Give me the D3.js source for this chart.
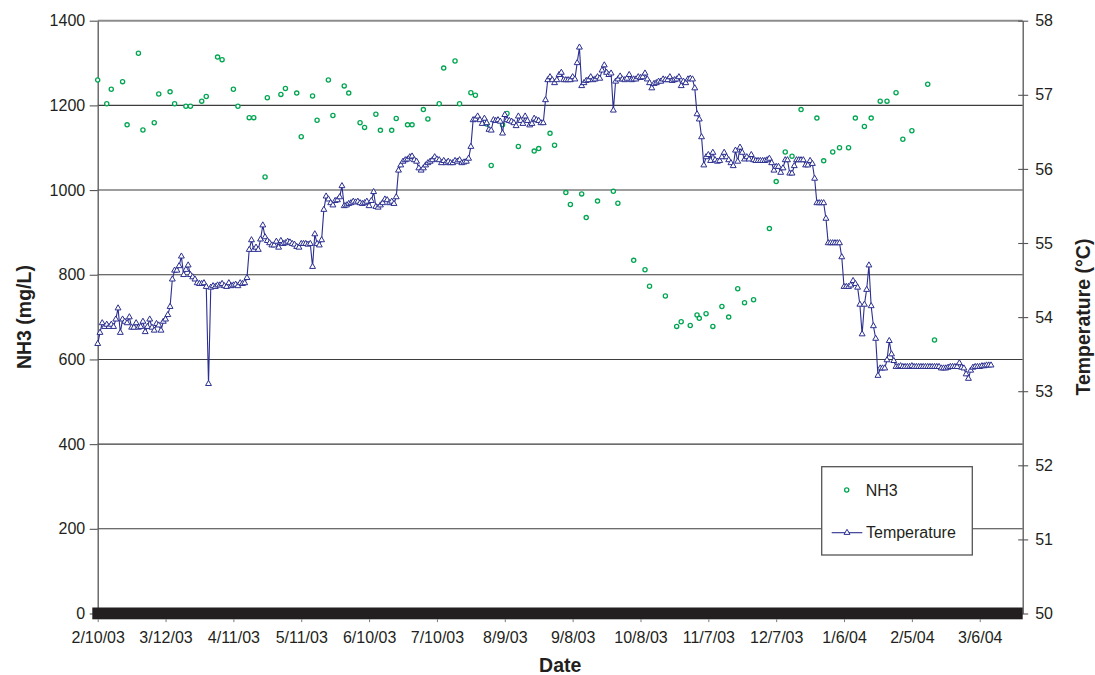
<!DOCTYPE html>
<html>
<head>
<meta charset="utf-8">
<script src="https://cdn.jsdelivr.net/npm/d3@7"></script>
<style>
  body { margin: 0; background: #fff; }
  svg text { font-family: "Liberation Sans", Arial, Helvetica, sans-serif; fill: #231f20; }
</style>
</head>
<body>
<script>
// NH3 and digester temperature, 2/10/03 - 3/6/04

const startDate = "2003-02-10";
const endDate = "2004-03-25";

const xTickLabels = ["2/10/03", "3/12/03", "4/11/03", "5/11/03", "6/10/03", "7/10/03", "8/9/03",
  "9/8/03", "10/8/03", "11/7/03", "12/7/03", "1/6/04", "2/5/04", "3/6/04"];
const nh3Ticks = [0, 200, 400, 600, 800, 1000, 1200, 1400];
const tempTicks = [50, 51, 52, 53, 54, 55, 56, 57, 58];

// NH3 samples: days after 2/10/03, and mg/L
const nh3Days = [0, 4, 6, 11, 13, 18, 20, 25, 27, 32, 34, 39, 41, 46, 48, 53, 55, 60, 62, 67,
  69, 74, 75, 81, 83, 88, 90, 95, 97, 102, 104, 109, 111, 116, 118, 123, 125, 130, 132, 137,
  139, 144, 146, 151, 153, 158, 160, 165, 167, 172, 174, 179, 181, 186, 193, 195, 200, 202, 207, 209,
  214, 216, 221, 228, 230, 237, 242, 244, 251, 256, 258, 262, 265, 266, 269, 272, 276, 279, 283, 286,
  290, 297, 300, 304, 307, 311, 318, 321, 325, 328, 332, 335, 339, 342, 346, 349, 353, 356, 360, 367,
  370];
const nh3Values = [1260, 1204, 1238, 1256, 1154, 1323, 1142, 1159, 1227, 1232, 1204, 1198, 1198, 1210, 1221, 1314, 1308, 1238, 1198, 1171,
  1171, 1031, 1218, 1226, 1240, 1229, 1126, 1222, 1165, 1260, 1176, 1246, 1229, 1159, 1148, 1179, 1141, 1141, 1169, 1154,
  1154, 1190, 1168, 1204, 1288, 1305, 1204, 1230, 1224, 1156, 1058, 1154, 1181, 1103, 1092, 1098, 1134, 1106, 994, 966,
  991, 935, 974, 997, 969, 834, 812, 773, 750, 678, 689, 680, 705, 697, 708, 678, 725, 700, 767, 734,
  741, 909, 1020, 1090, 1080, 1190, 1170, 1069, 1090, 1100, 1100, 1170, 1150, 1170, 1210, 1210, 1230, 1120, 1140, 1250,
  646];

// Daily temperature (deg C), one value per day from 2/10/03
const tempValues = [
  53.64, 53.79, 53.92, 53.87, 53.90, 53.87, 53.90, 53.87, 53.97, 54.12,
  53.79, 53.97, 53.94, 53.92, 54.00, 53.86, 53.86, 53.92, 53.86, 53.87,
  53.94, 53.80, 53.87, 53.97, 53.86, 53.82, 53.91, 53.89, 53.82, 53.94,
  53.97, 54.03, 54.14,
  54.51, 54.63, 54.63, 54.69, 54.82, 54.57, 54.64, 54.70, 54.57, 54.54,
  54.51, 54.46, 54.45, 54.45, 54.46, 54.41,
  53.10,
  54.40, 54.42, 54.41, 54.43, 54.43, 54.45, 54.42, 54.41, 54.46, 54.42,
  54.43, 54.44, 54.42, 54.46, 54.45, 54.46, 54.53,
  54.91, 55.04, 54.91, 54.94, 54.91, 55.05, 55.24, 55.08, 55.03, 55.00,
  54.97, 54.97, 55.02, 54.94, 55.03, 54.99, 55.00, 55.02, 55.01, 54.99,
  54.98, 54.95, 54.94, 54.99, 54.99, 54.99, 54.98, 54.99, 54.68, 55.12,
  54.99, 54.97, 55.04,
  55.45, 55.63, 55.59, 55.54, 55.51, 55.57, 55.58, 55.62, 55.77, 55.50,
  55.51, 55.53, 55.54, 55.56, 55.55, 55.56, 55.54, 55.53, 55.54, 55.56,
  55.50, 55.57, 55.69, 55.49, 55.48, 55.51, 55.54, 55.59, 55.58, 55.54,
  55.56, 55.53, 55.62,
  55.98, 56.05, 56.10, 56.12, 56.13, 56.16, 56.17, 56.12, 56.10, 56.01,
  55.98, 56.01, 56.05, 56.08, 56.10, 56.12, 56.16, 56.13, 56.12, 56.08,
  56.11, 56.08, 56.10, 56.08, 56.08, 56.11, 56.10, 56.12, 56.08, 56.09,
  56.10, 56.14,
  56.30,
  56.66, 56.67, 56.71, 56.66, 56.61, 56.68, 56.62, 56.53, 56.52, 56.66,
  56.65, 56.66, 56.64, 56.48, 56.73, 56.66, 56.65, 56.64, 56.62, 56.58,
  56.71, 56.65, 56.61, 56.71, 56.65, 56.59, 56.61, 56.68, 56.66, 56.65,
  56.62, 56.62,
  56.93, 57.20, 57.24, 57.20, 57.16, 57.20, 57.27, 57.30, 57.20, 57.20,
  57.20, 57.20, 57.24, 57.21, 57.43, 57.64, 57.12, 57.16, 57.19, 57.20,
  57.24, 57.20, 57.21, 57.24, 57.22, 57.33, 57.40, 57.30, 57.27, 57.29,
  56.79,
  57.18, 57.21, 57.25, 57.21, 57.20, 57.22, 57.27, 57.20, 57.21, 57.21,
  57.24, 57.23, 57.24, 57.29, 57.21, 57.16, 57.09, 57.15, 57.16, 57.18,
  57.18, 57.21, 57.20, 57.20, 57.24, 57.19, 57.20, 57.21, 57.24, 57.12,
  57.18, 57.16, 57.21, 57.22, 57.21, 57.09, 56.74, 56.67, 56.43, 56.05,
  56.16, 56.19, 56.11, 56.22, 56.12, 56.10, 56.11, 56.16, 56.22, 56.16,
  56.12, 56.08, 56.04, 56.25, 56.10, 56.29, 56.22, 56.13, 56.16, 56.13,
  56.19, 56.12, 56.11, 56.11, 56.11, 56.11, 56.11, 56.12, 56.14, 56.08,
  55.98, 56.03, 56.03, 55.95, 56.01, 56.12, 56.12, 55.94, 55.94, 56.04,
  56.12, 56.12, 56.12, 56.12, 56.05, 56.05, 56.11, 56.07, 55.87, 55.54,
  55.54, 55.54, 55.54, 55.33, 55.00, 55.00, 55.00, 55.00, 55.00, 55.00,
  54.81,
  54.41, 54.41, 54.41, 54.43, 54.49, 54.45, 54.40, 54.17, 53.77, 54.17,
  54.37, 54.70, 54.15, 53.88, 53.71, 53.21, 53.31, 53.31, 53.31, 53.42,
  53.68, 53.50, 53.41,
  53.33, 53.33, 53.34, 53.33, 53.33, 53.33, 53.33, 53.34, 53.33, 53.33,
  53.33, 53.33, 53.33, 53.33, 53.33, 53.33, 53.33, 53.33, 53.33, 53.33,
  53.31, 53.31, 53.31, 53.32, 53.33, 53.33, 53.33, 53.33,
  53.38, 53.32, 53.31, 53.23, 53.17, 53.28, 53.32, 53.33, 53.33, 53.33,
  53.34, 53.34, 53.35, 53.35, 53.35
];

const nh3Color = "#00a651";
const tempColor = "#2b2f8f";
const axisColor = "#555";

// Margin convention
const W = 1095, H = 675;
const margin = {top: 20.7, right: 72.3, bottom: 61.5, left: 97.7};
const width = W - margin.left - margin.right,
      height = H - margin.top - margin.bottom;

const svg = d3.select("body").append("svg")
  .attr("width", W)
  .attr("height", H)
  .style("background", "#fff");

const g = svg.append("g")
  .attr("transform", `translate(${margin.left},${margin.top})`);

const parseISO = d3.utcParse("%Y-%m-%d");
const parseTick = d3.utcParse("%m/%d/%y");
const t0 = parseISO(startDate);

const x = d3.scaleUtc()
  .domain([t0, parseISO(endDate)])
  .range([0, width]);
const yL = d3.scaleLinear().domain([0, 1400]).range([height, 0]);
const yR = d3.scaleLinear().domain([50, 58]).range([height, 0]);

const nh3 = nh3Days.map((d, i) => ({date: d3.utcDay.offset(t0, d), v: nh3Values[i]}));
const temp = tempValues.map((v, i) => ({date: d3.utcDay.offset(t0, i), v: v}));

// Gridlines (0 is hidden under the heavy base bar, 1400 is the frame)
g.append("g").selectAll("line")
  .data(nh3Ticks.filter(d => d > 0 && d < 1400))
  .join("line")
  .attr("x1", 0).attr("x2", width)
  .attr("y1", d => yL(d)).attr("y2", d => yL(d))
  .attr("stroke", "#3d3d3d")
  .attr("stroke-width", 1.1);

// Top frame line
g.append("line")
  .attr("x1", 0).attr("x2", width)
  .attr("y1", yL(1400)).attr("y2", yL(1400))
  .attr("stroke", "#8c8c8c")
  .attr("stroke-width", 2);

// Left axis
// NOTE: axis.call() sets font-size 10 on the group, so set ours afterwards.
const leftAxis = g.append("g")
  .call(d3.axisLeft(yL).tickValues(nh3Ticks).tickFormat(d3.format("d"))
    .tickSize(8).tickSizeOuter(0).tickPadding(4.5))
  .attr("font-size", 16)
  .attr("color", "#231f20");
leftAxis.select(".domain").attr("stroke", axisColor).attr("stroke-width", 1.3);
leftAxis.selectAll(".tick line").attr("stroke", axisColor).attr("stroke-width", 1.1);

// Right axis, ticks cross the line
const rightAxis = g.append("g")
  .attr("transform", `translate(${width},0)`)
  .call(d3.axisRight(yR).tickValues(tempTicks).tickSize(5.5).tickSizeOuter(0).tickPadding(7))
  .attr("font-size", 16)
  .attr("color", "#231f20");
rightAxis.select(".domain").attr("stroke", axisColor).attr("stroke-width", 1.3);
rightAxis.selectAll(".tick line").attr("x1", -4.5).attr("stroke", axisColor).attr("stroke-width", 1.1);

// Heavy base bar
g.append("rect")
  .attr("x", -5.4)
  .attr("y", height - 6)
  .attr("width", width + 5.4)
  .attr("height", 11.8)
  .attr("fill", "#231f20");

// Bottom axis
const bottomAxis = g.append("g")
  .attr("transform", `translate(0,${height + 5.6})`)
  .call(d3.axisBottom(x)
    .tickValues(xTickLabels.map(parseTick))
    .tickFormat(d3.utcFormat("%-m/%-d/%y"))
    .tickSize(3)
    .tickSizeOuter(0)
    .tickPadding(9.5))
  .attr("font-size", 16)
  .attr("color", "#231f20");
bottomAxis.select(".domain").remove();
bottomAxis.selectAll(".tick line").attr("stroke", "#777");

// NH3 points
g.append("g").selectAll("circle")
  .data(nh3)
  .join("circle")
  .attr("cx", d => x(d.date))
  .attr("cy", d => yL(d.v))
  .attr("r", 2.1)
  .attr("fill", "#fff")
  .attr("stroke", nh3Color)
  .attr("stroke-width", 1.3);

// Temperature line and markers
const line = d3.line()
  .x(d => x(d.date))
  .y(d => yR(d.v));

g.append("path")
  .datum(temp)
  .attr("d", line)
  .attr("fill", "none")
  .attr("stroke", tempColor)
  .attr("stroke-width", 1.1);

const tri = d3.symbol(d3.symbolTriangle, 15);
g.append("g").selectAll("path")
  .data(temp)
  .join("path")
  .attr("transform", d => `translate(${x(d.date)},${yR(d.v)})`)
  .attr("d", tri)
  .attr("fill", "#fff")
  .attr("stroke", tempColor)
  .attr("stroke-width", 1);

// Axis titles
svg.append("text")
  .attr("transform", `translate(24,${margin.top + height / 2}) rotate(-90)`)
  .attr("text-anchor", "middle")
  .attr("dy", "0.35em")
  .attr("font-size", 19.5)
  .attr("font-weight", "bold")
  .text("NH3 (mg/L)");

svg.append("text")
  .attr("transform", `translate(1083,${margin.top + height / 2}) rotate(-90)`)
  .attr("text-anchor", "middle")
  .attr("dy", "0.35em")
  .attr("font-size", 19.5)
  .attr("font-weight", "bold")
  .text("Temperature (°C)");

svg.append("text")
  .attr("x", margin.left + width / 2)
  .attr("y", 672)
  .attr("text-anchor", "middle")
  .attr("font-size", 19.5)
  .attr("font-weight", "bold")
  .text("Date");

// Legend
const legend = svg.append("g").attr("transform", "translate(821.7,466.7)");
legend.append("rect")
  .attr("width", 150.6)
  .attr("height", 88.3)
  .attr("fill", "#fff")
  .attr("stroke", axisColor)
  .attr("stroke-width", 1.3);
legend.append("circle")
  .attr("cx", 25).attr("cy", 23.3)
  .attr("r", 2.1)
  .attr("fill", "#fff")
  .attr("stroke", nh3Color)
  .attr("stroke-width", 1.3);
legend.append("text")
  .attr("x", 44).attr("y", 23.3)
  .attr("dy", "0.35em")
  .attr("font-size", 16)
  .text("NH3");
legend.append("line")
  .attr("x1", 10).attr("x2", 40.6)
  .attr("y1", 66).attr("y2", 66)
  .attr("stroke", tempColor)
  .attr("stroke-width", 1.1);
legend.append("path")
  .attr("transform", "translate(25.3,66)")
  .attr("d", tri)
  .attr("fill", "#fff")
  .attr("stroke", tempColor)
  .attr("stroke-width", 1);
legend.append("text")
  .attr("x", 44.3).attr("y", 66)
  .attr("dy", "0.35em")
  .attr("font-size", 16)
  .text("Temperature");
</script>
</body>
</html>
